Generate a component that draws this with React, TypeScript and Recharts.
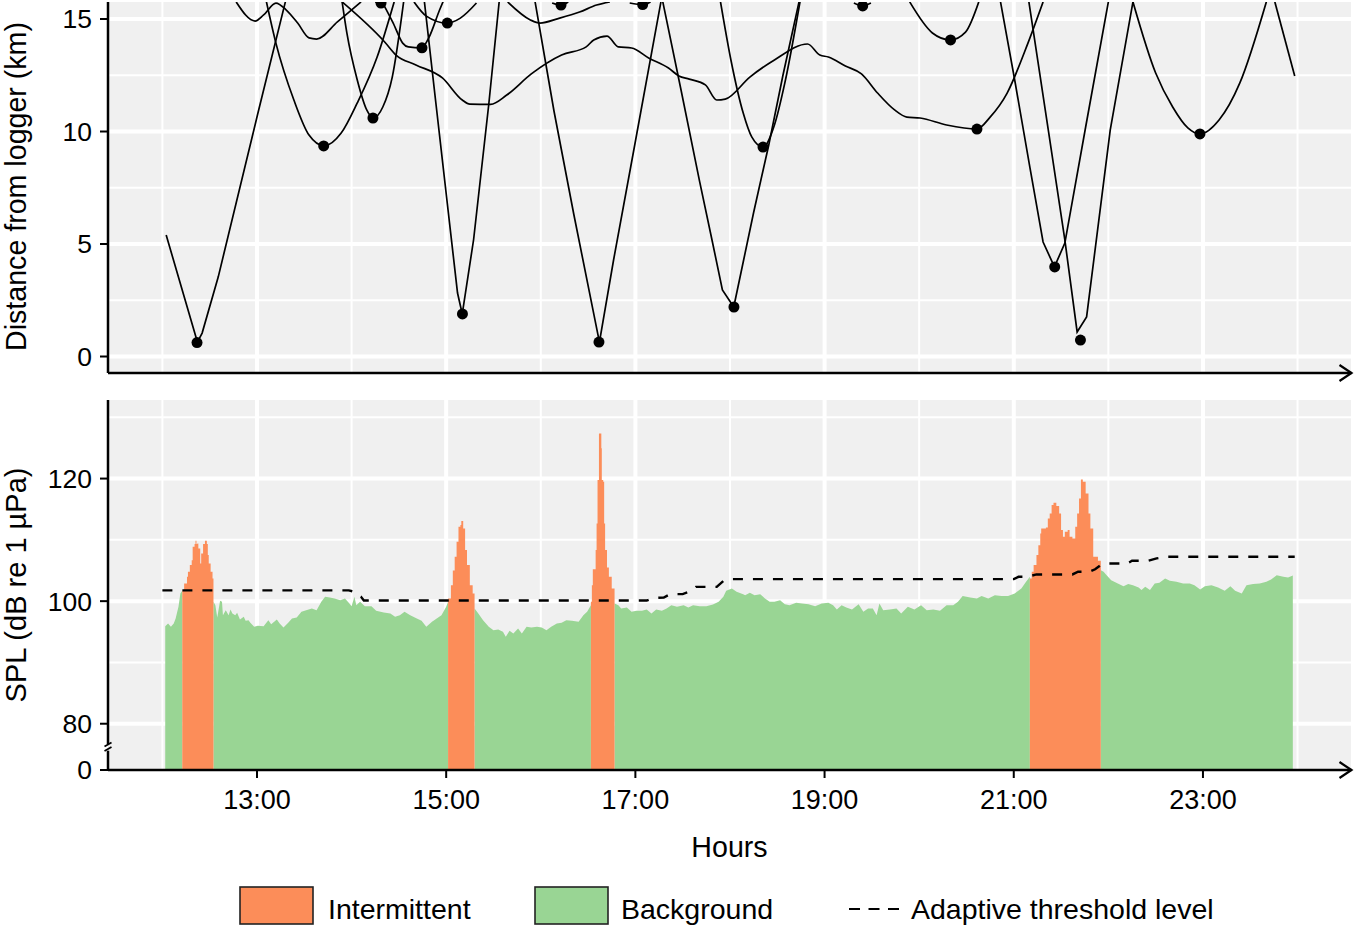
import {
  ComposedChart,
  Line,
  Area,
  Scatter,
  XAxis,
  YAxis,
  ZAxis,
  CartesianGrid,
  ReferenceLine,
  ReferenceDot,
} from 'recharts';

type Pair = [number, number];

const FONT = '"Liberation Sans", Arial, sans-serif';
const ORANGE = '#fc8d59';
const GREEN = '#99d594';

const X_MIN = 11.425;
const X_MAX = 24.565;
const KM_MIN = -0.733;
const KM_MAX = 15.756;
const SPL_MIN = 72.45;
const SPL_MAX = 132.82;

const hourTicks = [13, 15, 17, 19, 21, 23];
const hourMinor = [12, 14, 16, 18, 20, 22, 24];
const kmTicks = [0, 5, 10, 15];
const kmMinor = [2.5, 7.5, 12.5];
const splTicks = [SPL_MIN, 80, 100, 120];
const splMajor = [80, 100, 120];
const splMinor = [90, 110, 130];

// vessel passes: [hour, km]
const tracks: Pair[][] = [
  [[12.04, 5.4], [12.37, 0.64], [12.42, 1.04], [12.59, 3.53], [13.01, 10.82], [13.3, 15.76]],
  [[13.1, 15.76], [13.2, 13.93], [13.39, 11.4], [13.55, 9.84], [13.71, 9.36], [13.89, 9.93], [14.06, 11.27], [14.27, 13.31], [14.45, 15.76]],
  [[12.78, 15.76], [12.98, 14.91], [13.07, 15.18], [13.2, 15.71], [13.31, 15.4], [13.43, 14.82], [13.55, 14.16], [13.63, 14.11], [13.85, 14.87], [14.1, 15.76]],
  [[13.9, 15.76], [14.35, 13.98], [14.47, 13.4], [14.68, 12.96], [14.96, 12.38], [15.17, 11.4], [15.25, 11.22], [15.47, 11.21], [15.64, 11.62], [15.9, 12.56], [16.22, 13.4], [16.48, 13.76], [16.56, 14.07], [16.7, 14.24], [16.82, 13.76], [16.96, 13.71], [17.14, 13.27], [17.35, 12.82], [17.46, 12.47], [17.57, 12.33], [17.74, 12.07], [17.86, 11.4], [17.95, 11.44], [18.21, 12.42], [18.47, 13.18], [18.82, 13.89], [18.95, 13.4], [19.04, 13.31], [19.22, 12.91], [19.39, 12.56], [19.56, 11.71], [19.74, 10.96], [19.87, 10.64], [20.01, 10.6], [20.29, 10.29], [20.61, 10.11], [20.75, 10.64], [20.93, 11.71], [21.15, 13.93], [21.31, 15.76]],
  [[13.9, 15.76], [13.95, 14.38], [14.06, 12.29], [14.16, 10.96], [14.23, 10.6], [14.33, 11.09], [14.43, 12.42], [14.55, 15.76]],
  [[14.33, 15.71], [14.44, 14.82], [14.54, 13.93], [14.6, 13.76], [14.74, 13.72], [14.82, 14.2], [14.93, 15.4], [14.97, 15.8]],
  [[14.66, 15.76], [14.79, 15.13], [15.01, 14.82], [15.15, 15.04], [15.32, 15.71]],
  [[14.77, 15.76], [14.89, 11.3], [15.02, 6.5], [15.12, 2.82], [15.17, 1.89], [15.29, 5.2], [15.45, 11.2], [15.56, 15.76]],
  [[15.65, 15.76], [15.89, 14.96], [15.99, 14.82], [16.2, 15.04], [16.41, 15.31], [16.59, 15.62], [16.73, 15.76]],
  [[16.12, 15.71], [16.21, 15.62], [16.29, 15.76]],
  [[16.94, 15.71], [17.08, 15.64], [17.16, 15.76]],
  [[19.31, 15.71], [19.4, 15.58], [19.49, 15.71]],
  [[14.25, 15.76], [14.31, 15.71], [14.36, 15.76]],
  [[15.94, 15.76], [16.14, 10.9], [16.35, 6.3], [16.62, 0.64], [16.77, 4.3], [16.98, 9.1], [17.27, 15.76]],
  [[17.29, 15.76], [17.48, 11.9], [17.68, 7.76], [17.81, 5.18], [17.92, 2.96], [18.04, 2.2], [18.14, 4.2], [18.25, 6.4], [18.41, 9.4], [18.56, 12.5], [18.73, 15.76]],
  [[17.9, 15.76], [18.01, 13.18], [18.14, 10.82], [18.23, 9.76], [18.35, 9.31], [18.47, 10.29], [18.58, 12.16], [18.74, 15.76]],
  [[19.9, 15.76], [20.14, 14.38], [20.33, 14.07], [20.49, 14.42], [20.63, 15.76]],
  [[20.86, 15.76], [21.01, 12.29], [21.17, 8.42], [21.31, 5.09], [21.43, 3.98], [21.54, 5.04], [21.76, 10.2], [22.0, 15.76]],
  [[21.16, 15.76], [21.37, 9.93], [21.54, 5.18], [21.67, 1.09], [21.77, 1.76], [22.02, 10.07], [22.26, 15.76]],
  [[22.26, 15.76], [22.5, 12.6], [22.68, 11.09], [22.84, 10.16], [22.97, 9.89], [23.17, 10.51], [23.39, 12.16], [23.67, 15.76]],
  [[23.76, 15.76], [23.97, 12.47]],
];

// passes with a sharp turn at the closest point, the others round off
const sharpTracks = [0, 7, 13, 14, 17, 18, 20];

// closest point of approach of each pass
const closestPoints: Pair[] = [
  [12.366, 0.62], [13.705, 9.36], [14.226, 10.6], [14.744, 13.72], [15.012, 14.82], [14.311, 15.71],
  [15.172, 1.89], [16.214, 15.62], [17.077, 15.64], [16.615, 0.64], [18.042, 2.2], [18.349, 9.31],
  [19.403, 15.58], [20.332, 14.07], [20.611, 10.11], [21.433, 3.98], [21.705, 0.73], [22.968, 9.89],
];

const background: Pair[][] = [
  [[12.03, 95.92], [12.06, 96.35], [12.09, 95.81], [12.12, 96.35], [12.14, 97.17], [12.17, 99.07], [12.19, 101.25], [12.21, 101.69]],
  [[12.54, 99.89], [12.56, 99.35], [12.58, 97.33], [12.61, 100.05], [12.63, 99.89], [12.64, 97.71], [12.67, 98.53], [12.7, 97.71], [12.72, 98.64], [12.74, 97.99], [12.77, 97.71], [12.79, 98.1], [12.82, 97.01], [12.86, 97.44], [12.88, 96.79], [12.91, 96.9], [12.93, 96.46], [12.97, 95.81], [13.01, 95.97], [13.07, 95.92], [13.12, 96.9], [13.15, 96.24], [13.21, 97.01], [13.24, 96.35], [13.28, 95.7], [13.33, 96.46], [13.37, 97.17], [13.42, 97.33], [13.47, 98.26], [13.52, 98.53], [13.58, 98.8], [13.63, 98.53], [13.68, 99.89], [13.72, 100.71], [13.77, 100.6], [13.82, 100.44], [13.88, 100.16], [13.93, 100.44], [13.97, 99.73], [14.0, 99.18], [14.03, 100.71], [14.05, 99.35], [14.09, 99.89], [14.14, 99.18], [14.21, 99.18], [14.26, 98.42], [14.34, 98.15], [14.41, 97.99], [14.46, 97.44], [14.51, 97.71], [14.56, 98.26], [14.62, 97.71], [14.69, 97.17], [14.74, 96.79], [14.79, 95.81], [14.85, 96.63], [14.9, 97.17], [14.95, 97.71], [15.0, 99.07], [15.02, 99.89]],
  [[15.3, 98.8], [15.34, 97.99], [15.39, 96.9], [15.45, 95.81], [15.5, 95.27], [15.55, 95.37], [15.6, 94.99], [15.63, 94.18], [15.67, 95.16], [15.71, 94.72], [15.76, 95.54], [15.8, 94.72], [15.85, 95.81], [15.9, 95.7], [15.96, 95.81], [16.01, 95.7], [16.06, 95.27], [16.11, 95.81], [16.17, 96.35], [16.22, 96.46], [16.27, 96.9], [16.33, 96.79], [16.4, 96.63], [16.45, 97.71], [16.49, 98.26], [16.53, 99.35]],
  [[16.78, 99.62], [16.82, 99.35], [16.85, 98.8], [16.91, 98.97], [16.96, 98.26], [17.01, 98.42], [17.07, 98.42], [17.12, 98.64], [17.17, 97.99], [17.22, 98.64], [17.28, 98.42], [17.33, 98.8], [17.38, 99.35], [17.44, 99.07], [17.51, 99.35], [17.56, 98.97], [17.61, 99.35], [17.68, 99.18], [17.75, 99.18], [17.82, 99.46], [17.88, 99.89], [17.93, 100.71], [17.96, 101.69], [18.02, 102.07], [18.07, 101.52], [18.14, 101.14], [18.16, 100.98], [18.21, 101.36], [18.26, 100.98], [18.32, 101.14], [18.37, 100.44], [18.42, 99.89], [18.47, 99.89], [18.53, 100.16], [18.58, 99.51], [18.63, 99.35], [18.7, 99.73], [18.76, 99.62], [18.83, 99.51], [18.9, 99.18], [18.97, 99.62], [19.04, 99.73], [19.09, 99.35], [19.13, 98.64], [19.18, 99.35], [19.23, 98.97], [19.29, 98.64], [19.36, 99.51], [19.41, 98.26], [19.46, 98.8], [19.51, 98.8], [19.55, 97.71], [19.58, 99.62], [19.62, 98.53], [19.69, 98.64], [19.76, 98.8], [19.81, 97.99], [19.88, 99.07], [19.95, 98.64], [20.02, 99.35], [20.08, 98.53], [20.15, 98.64], [20.22, 98.42], [20.29, 99.35], [20.36, 99.35], [20.41, 99.89], [20.46, 100.82], [20.54, 100.6], [20.61, 100.44], [20.66, 100.82], [20.73, 100.44], [20.8, 100.98], [20.87, 100.82], [20.94, 100.82], [21.01, 101.25], [21.08, 102.07], [21.13, 103.16], [21.17, 103.97]],
  [[21.92, 105.06], [21.95, 104.79], [21.97, 104.41], [22.03, 103.43], [22.1, 102.88], [22.16, 102.45], [22.21, 102.78], [22.26, 102.61], [22.32, 102.23], [22.35, 101.8], [22.39, 102.34], [22.44, 101.8], [22.49, 102.88], [22.54, 102.99], [22.6, 103.7], [22.65, 103.32], [22.72, 103.16], [22.79, 102.88], [22.86, 102.88], [22.91, 102.61], [22.97, 101.9], [23.02, 102.45], [23.09, 102.61], [23.16, 102.23], [23.23, 101.69], [23.29, 102.45], [23.34, 101.69], [23.41, 101.25], [23.46, 102.61], [23.53, 102.78], [23.6, 102.88], [23.67, 103.16], [23.72, 103.54], [23.78, 104.24], [23.85, 103.97], [23.9, 103.86], [23.95, 104.19]],
];

const intermittent: Pair[][] = [
  [[12.21, 101.69], [12.23, 102.88], [12.26, 103.97], [12.27, 104.79], [12.29, 105.88], [12.31, 106.69], [12.32, 108.87], [12.34, 109.31], [12.35, 109.85], [12.36, 109.31], [12.37, 109.41], [12.38, 108.6], [12.4, 106.15], [12.41, 107.78], [12.43, 109.31], [12.45, 109.85], [12.47, 109.31], [12.48, 107.51], [12.49, 106.15], [12.51, 104.79], [12.53, 103.7], [12.54, 102.61]],
  [[15.02, 100.44], [15.05, 102.61], [15.07, 105], [15.09, 107.24], [15.11, 109.69], [15.13, 112.14], [15.15, 112.41], [15.16, 113.06], [15.18, 111.86], [15.2, 108.33], [15.22, 105.88], [15.25, 102.61], [15.28, 101.25], [15.3, 99.35]],
  [[16.53, 99.9], [16.54, 102.61], [16.55, 105.22], [16.58, 108.33], [16.59, 112.68], [16.6, 119.75], [16.61, 119.75], [16.615, 127.37], [16.63, 127.37], [16.64, 124.93], [16.645, 119.75], [16.66, 119.48], [16.67, 112.68], [16.68, 108.33], [16.7, 105.5], [16.72, 103.97], [16.75, 102.07], [16.78, 100.44]],
  [[21.17, 103.7], [21.19, 104.79], [21.21, 105.88], [21.24, 107.51], [21.26, 109.14], [21.28, 111.05], [21.29, 111.86], [21.34, 112.03], [21.36, 113.5], [21.38, 114.31], [21.4, 115.67], [21.42, 116.05], [21.45, 115.51], [21.48, 114.31], [21.5, 111.59], [21.52, 110.5], [21.54, 111.32], [21.57, 111.59], [21.59, 110.5], [21.62, 110.23], [21.65, 112.14], [21.67, 114.31], [21.69, 116.76], [21.71, 119.86], [21.73, 119.48], [21.76, 117.58], [21.79, 114.31], [21.81, 111.86], [21.84, 107.24], [21.89, 106.59], [21.92, 105.06]],
];

const threshold: Pair[] = [
  [12.0, 101.75], [13.97, 101.75], [14.01, 101.6], [14.03, 101.3], [14.1, 100.7], [14.13, 100.1], [17.12, 100.1], [17.2, 100.54], [17.3, 100.6], [17.37, 101.14], [17.5, 101.14], [17.58, 101.6], [17.64, 102.33], [17.86, 102.33], [17.93, 103.3], [18.0, 103.6], [21.0, 103.6], [21.05, 103.97], [21.14, 103.97], [21.24, 104.36], [21.62, 104.36], [21.68, 104.8], [21.8, 104.8], [21.86, 105.2], [21.92, 105.9], [21.99, 106.15], [22.2, 106.15], [22.25, 106.58], [22.42, 106.6], [22.51, 106.97], [22.62, 107.24], [23.97, 107.24],
];

const toKm = (p: Pair[]) => p.map(([h, km]) => ({ h, km }));
const toSpl = (p: Pair[]) => p.map(([h, spl]) => ({ h, spl }));

const tickStyle = { fontFamily: FONT, fontSize: 26.5, fill: '#000' };
const hourTickStyle = { fontFamily: FONT, fontSize: 27, fill: '#000' };
const titleStyle = { fontFamily: FONT, fontSize: 28.6, fill: '#000', textAnchor: 'middle' as const };

const ArrowAxis = (props: any) => {
  const { x1, y1, x2 } = props;
  const tip = x2 + 0.5;
  return (
    <g>
      <line x1={x1} y1={y1} x2={tip} y2={y1} stroke="#000" strokeWidth={2.5} />
      <polyline
        points={`${tip - 12},${y1 - 8} ${tip},${y1} ${tip - 12},${y1 + 8}`}
        fill="none"
        stroke="#000"
        strokeWidth={2.2}
      />
    </g>
  );
};

const AxisBreak = (props: any) => {
  const { cx, cy } = props;
  return (
    <g stroke="#000" strokeWidth={1.8}>
      <line x1={cx - 3.5} y1={cy - 0.5} x2={cx + 3.5} y2={cy - 4.5} />
      <line x1={cx - 3.5} y1={cy + 4} x2={cx + 3.5} y2={cy} />
    </g>
  );
};

const DistancePanel = () => (
  <ComposedChart width={1355} height={385} margin={{ top: 2, right: 4, bottom: 12, left: 0 }}>
    <CartesianGrid fill="#f0f0f0" stroke="#fff" strokeWidth={2} horizontalValues={kmMinor} verticalValues={hourMinor} />
    <CartesianGrid stroke="#fff" strokeWidth={4} horizontalValues={kmTicks} verticalValues={hourTicks} />
    <XAxis hide dataKey="h" type="number" domain={[X_MIN, X_MAX]} allowDataOverflow />
    <YAxis
      dataKey="km"
      type="number"
      width={108}
      domain={[KM_MIN, KM_MAX]}
      allowDataOverflow
      ticks={kmTicks}
      interval={0}
      tick={tickStyle}
      tickSize={8}
      tickMargin={8}
      axisLine={{ stroke: '#000', strokeWidth: 2.5 }}
      tickLine={{ stroke: '#000', strokeWidth: 2 }}
      label={{ value: 'Distance from logger (km)', angle: -90, position: 'center', dx: -38, dy: -1, style: titleStyle }}
    />
    <ZAxis range={[95, 95]} />
    {tracks.map((t, i) => (
      <Line
        key={i}
        data={toKm(t)}
        dataKey="km"
        type={sharpTracks.includes(i) ? 'linear' : 'monotoneX'}
        stroke="#000"
        strokeWidth={1.7}
        dot={false}
        activeDot={false}
        isAnimationActive={false}
      />
    ))}
    <Scatter data={toKm(closestPoints)} dataKey="km" fill="#000" isAnimationActive={false} />
    <ReferenceLine y={KM_MIN} shape={ArrowAxis} />
  </ComposedChart>
);

const SplPanel = () => (
  <ComposedChart width={1355} height={480} margin={{ top: 10, right: 4, bottom: 0, left: 0 }}>
    <CartesianGrid fill="#f0f0f0" stroke="#fff" strokeWidth={2} horizontalValues={splMinor} verticalValues={hourMinor} />
    <CartesianGrid stroke="#fff" strokeWidth={4} horizontalValues={splMajor} verticalValues={hourTicks} />
    <XAxis
      dataKey="h"
      type="number"
      domain={[X_MIN, X_MAX]}
      allowDataOverflow
      ticks={hourTicks}
      interval={0}
      height={100}
      tick={hourTickStyle}
      tickSize={8}
      tickMargin={12}
      tickFormatter={(v: number) => `${v}:00`}
      axisLine={false}
      tickLine={{ stroke: '#000', strokeWidth: 2 }}
      label={{ value: 'Hours', position: 'insideBottom', offset: 13, style: titleStyle }}
    />
    <YAxis
      dataKey="spl"
      type="number"
      width={108}
      domain={[SPL_MIN, SPL_MAX]}
      allowDataOverflow
      ticks={splTicks}
      interval={0}
      tick={tickStyle}
      tickSize={8}
      tickMargin={8}
      tickFormatter={(v: number) => (v === SPL_MIN ? '0' : String(v))}
      axisLine={false}
      tickLine={{ stroke: '#000', strokeWidth: 2 }}
      label={{ value: 'SPL (dB re 1 µPa)', angle: -90, position: 'center', dx: -38, style: { ...titleStyle, fontSize: 29 } }}
    />
    {background.map((s, i) => (
      <Area
        key={`bg${i}`}
        data={toSpl(s)}
        dataKey="spl"
        type="linear"
        baseValue={SPL_MIN}
        stroke="none"
        fill={GREEN}
        fillOpacity={1}
        dot={false}
        activeDot={false}
        isAnimationActive={false}
      />
    ))}
    {intermittent.map((s, i) => (
      <Area
        key={`in${i}`}
        data={toSpl(s)}
        dataKey="spl"
        type="stepAfter"
        baseValue={SPL_MIN}
        stroke="none"
        fill={ORANGE}
        fillOpacity={1}
        dot={false}
        activeDot={false}
        isAnimationActive={false}
      />
    ))}
    <Line
      data={toSpl(threshold)}
      dataKey="spl"
      type="linear"
      stroke="#000"
      strokeWidth={2.4}
      strokeDasharray="10 10"
      dot={false}
      activeDot={false}
      isAnimationActive={false}
    />
    <ReferenceLine
      segment={[{ x: X_MIN, y: SPL_MIN }, { x: X_MIN, y: 75.6 }]}
      stroke="#000"
      strokeWidth={2.5}
    />
    <ReferenceLine
      segment={[{ x: X_MIN, y: 76.7 }, { x: X_MIN, y: SPL_MAX }]}
      stroke="#000"
      strokeWidth={2.5}
    />
    <ReferenceDot x={X_MIN} y={76.2} shape={AxisBreak} />
    <ReferenceLine y={SPL_MIN} shape={ArrowAxis} />
  </ComposedChart>
);

const Legend = () => (
  <svg width={1355} height={69} style={{ position: 'absolute', left: 0, top: 860 }} fontFamily={FONT} fontSize={28.5}>
    <rect x={240} y={27} width={73} height={37} fill={ORANGE} stroke="#222" strokeWidth={1.6} />
    <text x={328} y={59}>Intermittent</text>
    <rect x={535} y={27} width={73} height={37} fill={GREEN} stroke="#222" strokeWidth={1.6} />
    <text x={621} y={59}>Background</text>
    <line x1={849} y1={49} x2={899} y2={49} stroke="#000" strokeWidth={2.2} strokeDasharray="11 8.5" />
    <text x={911} y={59}>Adaptive threshold level</text>
  </svg>
);

export default function App() {
  return (
    <div style={{ position: 'absolute', left: 0, top: 0, width: 1355, height: 929, background: '#fff' }}>
      <div style={{ position: 'absolute', left: 0, top: 0 }}>
        <DistancePanel />
      </div>
      <div style={{ position: 'absolute', left: 0, top: 390 }}>
        <SplPanel />
      </div>
      <Legend />
    </div>
  );
}
